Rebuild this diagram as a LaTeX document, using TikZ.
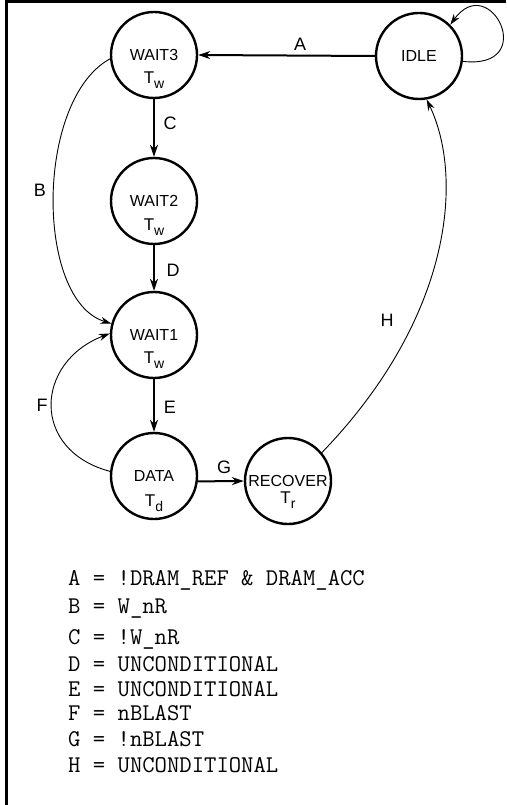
\documentclass[tikz,border=0pt]{standalone}
\usepackage{fontspec}
\setmainfont{Liberation Sans}
\usetikzlibrary{arrows.meta}

\newcommand{\Tsub}[1]{T\raisebox{-5pt}{\fontsize{14}{14}\selectfont #1}}

\tikzset{
  state/.style={draw,circle,line width=2.4pt,minimum size=86pt,inner sep=0pt,
    font=\fontsize{16}{18}\selectfont},
  timing/.style={anchor=base,inner sep=0pt,font=\fontsize{17}{19}\selectfont},
  thickedge/.style={draw,line width=2pt,-{Stealth[length=12pt,width=8pt]}},
  thinedge/.style={draw,line width=0.9pt,-{Stealth[length=11pt,width=7pt]}},
  elabel/.style={font=\fontsize{18}{20}\selectfont},
  cond/.style={anchor=base west,inner sep=0pt,font=\ttfamily\fontsize{24}{26}\selectfont}
}

\begin{document}
\begin{tikzpicture}[x=1pt,y=-1pt]
  \useasboundingbox (0,0) rectangle (506,805);
  \begin{scope}
    \draw[line width=3pt] (506,1.5) -- (6.5,1.5) -- (6.5,805);

    \node[state] (wait3) at (154,55) {WAIT3};
    \node[state] (idle) at (419,56) {IDLE};
    \node[state] (wait2) at (154,201) {WAIT2};
    \node[state] (wait1) at (154,335) {WAIT1};
    \node[state] (data) at (154,476) {DATA};
    \node[state] (recover) at (288,481) {RECOVER};

    \node[timing] (wait3t) at (154,84) {\Tsub{w}};
    \node[timing] (wait2t) at (154,230) {\Tsub{w}};
    \node[timing] (wait1t) at (154,363) {\Tsub{w}};
    \node[timing] (datat) at (154,506) {\Tsub{d}};
    \node[timing] (recovert) at (288,503) {\Tsub{r}};

    \path[thickedge] (idle.west) -- (wait3.east);
    \path[thickedge] (wait3.south) -- (wait2.north);
    \path[thickedge] (wait2.south) -- (wait1.north);
    \path[thickedge] (wait1.south) -- (data.north);
    \path[thickedge] (data.-7) -- (recover.west);

    \path[thinedge] (wait3.185) .. controls (35,100) and (35,300) .. (wait1.165);
    \path[thinedge] (data.174) .. controls (30,450) and (35,362) .. (wait1.178);
    \path[thinedge] (recover.40) .. controls (450,320) and (465,180) .. (idle.-80);
    \path[thinedge] (idle.-7) .. controls (540,70) and (490,-30) .. (idle.45);

    \node[elabel] (la) at (300,44) {A};
    \node[elabel] (lb) at (40,190) {B};
    \node[elabel] (lc) at (170,123) {C};
    \node[elabel] (ld) at (173,270) {D};
    \node[elabel] (le) at (170,407) {E};
    \node[elabel] (lf) at (42,405) {F};
    \node[elabel] (lg) at (224,467) {G};
    \node[elabel] (lh) at (387,320) {H};

    \node[cond] (ca) at (68,585) {A = !DRAM\_REF \& DRAM\_ACC};
    \node[cond] (cb) at (68,613) {B = W\_nR};
    \node[cond] (cc) at (68,644) {C = !W\_nR};
    \node[cond] (cd) at (68,671) {D = UNCONDITIONAL};
    \node[cond] (ce) at (68,696) {E = UNCONDITIONAL};
    \node[cond] (cf) at (68,720) {F = nBLAST};
    \node[cond] (cg) at (68,746) {G = !nBLAST};
    \node[cond] (ch) at (68,772) {H = UNCONDITIONAL};
  \end{scope}
\end{tikzpicture}
\end{document}
